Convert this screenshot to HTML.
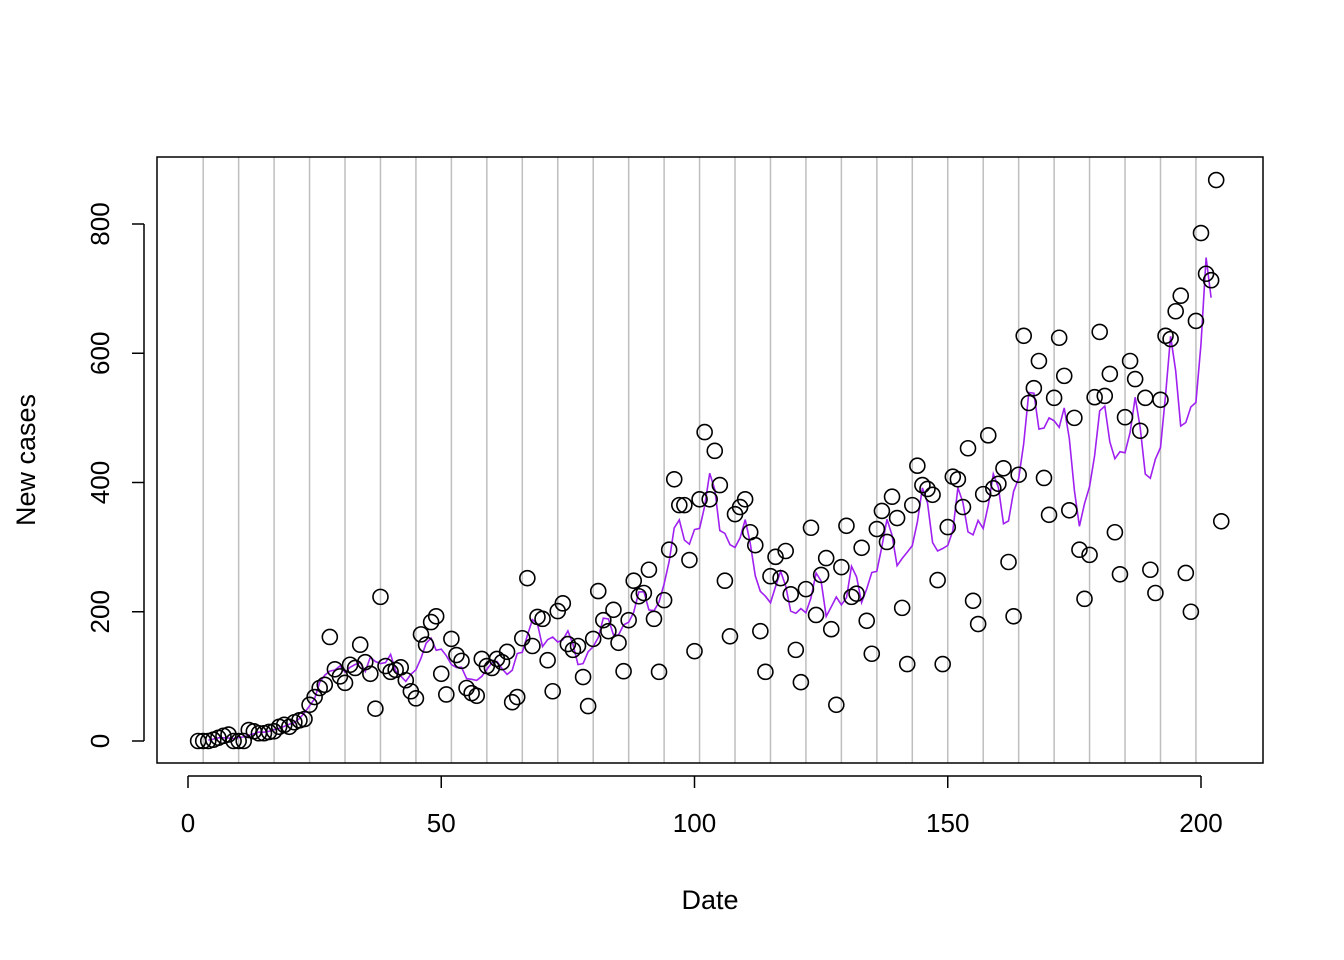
<!DOCTYPE html>
<html><head><meta charset="utf-8"><style>
html,body{margin:0;padding:0;background:#fff;}
svg{display:block;font-family:"Liberation Sans",sans-serif;}
</style></head><body>
<svg id="chart" width="1344" height="960">
<rect width="1344" height="960" fill="#fff"/>
<g id="grid"></g>
<g id="line"></g>
<g id="pts"></g>
<rect x="157" y="157" width="1106" height="606" fill="none" stroke="#000" stroke-width="1.5"/>
<g id="axes"></g>
<text x="710" y="909" font-size="27" text-anchor="middle">Date</text>
<text transform="translate(35,460) rotate(-90)" font-size="27" text-anchor="middle">New cases</text>
</svg>
<script>
const startDay = 2;
const cases = [0,0,0,2,5,8,10,0,0,0,17,15,12,12,14,15,22,25,22,29,32,34,56,68,82,87,161,111,100,90,118,113,149,122,104,50,223,116,107,110,114,94,77,66,165,149,184,193,104,72,158,133,124,82,74,70,127,116,113,127,122,138,60,68,159,252,147,192,189,125,77,201,213,150,141,147,99,54,158,232,187,170,203,152,108,187,248,224,229,265,189,107,218,296,405,365,365,280,139,374,478,374,449,396,248,162,351,362,374,323,303,170,107,255,285,252,294,227,141,91,235,330,195,257,283,173,56,269,333,223,228,299,186,135,328,356,308,378,345,206,119,365,426,396,390,381,249,119,331,409,405,362,453,217,181,382,473,391,398,422,277,193,412,627,523,546,588,407,350,531,624,565,357,500,296,220,288,532,633,534,568,323,258,501,588,560,480,531,265,229,528,627,622,665,689,260,200,650,786,723,713,868,340];
const xTicks = [0,50,100,150,200];
const yTicks = [0,200,400,600,800];
const gridDays = [3,10,17,24,31,38,45,52,59,66,73,80,87,94,101,108,115,122,129,136,143,150,157,164,171,178,185,192,199];
const NS = "http://www.w3.org/2000/svg";
const X = d => 188 + d * 5.065;
const Y = v => 741 - v * 0.64625;
function mk(tag, attrs, parent){const e=document.createElementNS(NS,tag);for(const k in attrs)e.setAttribute(k,attrs[k]);parent.appendChild(e);return e;}
const grid=document.getElementById('grid');
gridDays.forEach(d=>{
  const l=mk('line',{x1:X(d),x2:X(d),y1:157,y2:763,stroke:'#bebebe','stroke-width':1.5},grid);
  
  
});
const pts=document.getElementById('pts');
cases.forEach((v,i)=>{
  const c=mk('circle',{cx:X(startDay+i),cy:Y(v),r:7.5,fill:'none',stroke:'#000','stroke-width':1.6},pts);
  
  
});
// 5-day centered mean
let p=[];
for(let i=2;i<cases.length-2;i++){
  const m=(cases[i-2]+cases[i-1]+cases[i]+cases[i+1]+cases[i+2])/5;
  p.push(X(startDay+i).toFixed(1)+','+Y(m).toFixed(1));
}
const pl=mk('polyline',{points:p.join(' '),fill:'none',stroke:'#a020f0','stroke-width':1.6},document.getElementById('line'));


const ax=document.getElementById('axes');
mk('line',{x1:X(0),x2:X(200),y1:776,y2:776,stroke:'#000','stroke-width':1.5},ax);
xTicks.forEach(t=>{
  mk('line',{x1:X(t),x2:X(t),y1:776,y2:788,stroke:'#000','stroke-width':1.5},ax);
  const tx=mk('text',{x:X(t),y:832,'font-size':26,'text-anchor':'middle'},ax);
  tx.textContent=t;
  
  
});
mk('line',{x1:144,x2:144,y1:Y(0),y2:Y(800),stroke:'#000','stroke-width':1.5},ax);
yTicks.forEach(t=>{
  mk('line',{x1:132,x2:144,y1:Y(t),y2:Y(t),stroke:'#000','stroke-width':1.5},ax);
  const tx=mk('text',{transform:`translate(109,${Y(t)}) rotate(-90)`,'font-size':26,'text-anchor':'middle'},ax);
  tx.textContent=t;
  
  
});
</script>
</body></html>
